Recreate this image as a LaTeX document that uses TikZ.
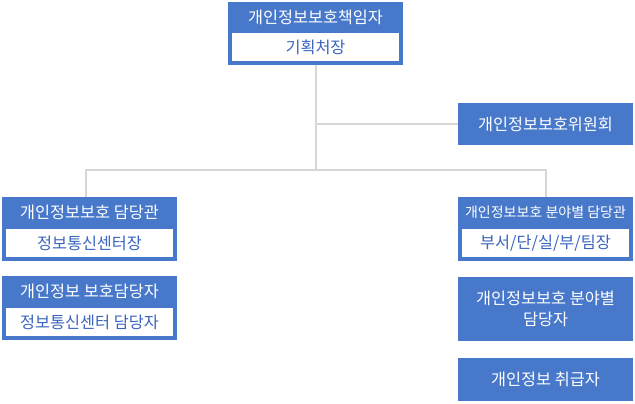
\documentclass[tikz,border=0pt]{standalone}
\usepackage{fontspec}
\setmainfont{Noto Sans CJK KR}
\usepackage{tikz}
\usetikzlibrary{calc}

\definecolor{orgblue}{RGB}{71,120,202}
\definecolor{orgtext}{RGB}{58,100,190}
\definecolor{orgline}{RGB}{214,214,214}

\tikzset{
	head/.style={rectangle, fill=orgblue, text=white, inner sep=0pt, outer sep=0pt,
		minimum width=175pt, minimum height=31pt, font=\fontsize{16.3}{19}\selectfont},
	sub/.style={rectangle, fill=white, draw=orgblue, line width=4pt, text=orgtext, inner sep=0pt,
		minimum width=171pt, minimum height=32pt, font=\fontsize{16.3}{19}\selectfont},
	solo/.style={rectangle, fill=orgblue, text=white, inner sep=0pt, outer sep=0pt,
		minimum width=175pt, align=center, font=\fontsize{16.3}{21}\selectfont},
	link/.style={draw=orgline, line width=2pt}
}

\begin{document}
\begin{tikzpicture}[x=1pt, y=-1pt]
	\useasboundingbox (0,0) rectangle (635,404);

	% top
	\node[head] (chief)    at (315.5,17.5) {개인정보보호책임자};
	\node[sub]  (chiefsub) at (315.5,47)   {기획처장};

	\node[solo, minimum height=42pt] (committee) at (545.5,124) {개인정보보호위원회};

	% left column
	\node[head] (mgr)    at (89.5,212.5) {개인정보보호 담당관};
	\node[sub]  (mgrsub) at (89.5,243)   {정보통신센터장};

	\node[head] (staff)    at (89.5,291.5) {개인정보 보호담당자};
	\node[sub]  (staffsub) at (89.5,322)   {정보통신센터 담당자};

	% right column
	\node[head, font=\fontsize{14}{16}\selectfont] (field) at (545.5,212.5)
		{개인정보보호 분야별 담당관};
	\node[sub] (fieldsub) at (545.5,243) {부서/단/실/부/팀장};

	\node[solo, minimum height=64pt] (fieldstaff) at (545.5,309)
		{개인정보보호 분야별\\담당자};
	\node[solo, minimum height=43pt] (handler) at (545.5,379.5) {개인정보 취급자};

	\coordinate (hub) at (315.5,170);

	\draw[link] (chiefsub.south) -- (hub);
	\draw[link] (chiefsub.south |- committee.west) -- (committee.west);
	\draw[link] (hub) -| ([xshift=-3.5pt]mgr.north);
	\draw[link] (hub) -| (field.north);
\end{tikzpicture}
\end{document}
